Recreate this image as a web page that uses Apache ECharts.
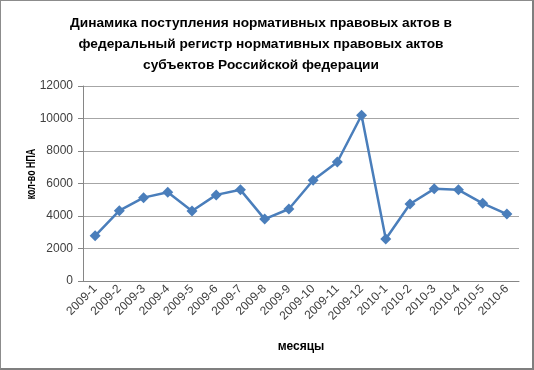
<!DOCTYPE html>
<html><head><meta charset="utf-8">
<script src="https://cdn.jsdelivr.net/npm/echarts@6/dist/echarts.min.js"></script>
<style>
html,body{margin:0;padding:0;background:#fff;}
#c{box-sizing:border-box;width:534px;height:370px;border-left:1px solid #8c8c8c;border-top:1px solid #8c8c8c;border-right:2px solid #7f7f7f;border-bottom:2px solid #7f7f7f;}
</style></head>
<body><div id="c"></div>
<script>
const categories = ['2009-1','2009-2','2009-3','2009-4','2009-5','2009-6','2009-7','2009-8','2009-9','2009-10','2009-11','2009-12','2010-1','2010-2','2010-3','2010-4','2010-5','2010-6'];
const values = [2780,4330,5130,5460,4310,5300,5610,3810,4430,6200,7320,10200,2580,4740,5670,5610,4780,4120];
const titleText = 'Динамика поступления нормативных правовых актов в\nфедеральный регистр нормативных правовых актов\nсубъектов Российской федерации';
const yName = 'кол-во НПА';
const xName = 'месяцы';

const chart = echarts.init(document.getElementById('c'), null, {renderer:'canvas'});
const font = 'Liberation Sans';
chart.setOption({
  animation:false,
  backgroundColor:'#fff',
  title:{
    text:titleText, left:255, top:7, textAlign:'center',
    textStyle:{fontFamily:font, fontSize:13.7, fontWeight:'bold', color:'#000', lineHeight:20.7}
  },
  grid:{left:82, right:13, top:85, bottom:87},
  graphic:[{
    type:'text', x:31, y:173, rotation:Math.PI/2, scaleX:0.74,
    style:{text:yName, fontFamily:font, fontSize:12, fontWeight:'bold', fill:'#000', align:'center', verticalAlign:'middle'}
  }],
  xAxis:{
    type:'category', data:categories, boundaryGap:true,
    name:xName, nameLocation:'middle', nameGap:60,
    nameTextStyle:{fontFamily:font, fontSize:12, fontWeight:'bold', color:'#000'},
    axisLine:{lineStyle:{color:'#868686', width:1}},
    axisTick:{show:false},
    axisLabel:{rotate:45, interval:0, fontFamily:font, fontSize:12, color:'#404040', margin:6}
  },
  yAxis:{
    type:'value', min:0, max:12000, interval:2000,
    axisLine:{show:true, lineStyle:{color:'#868686', width:1}},
    axisTick:{show:true, length:5, lineStyle:{color:'#868686'}},
    axisLabel:{fontFamily:font, fontSize:12, color:'#404040', margin:10, formatter:v=>String(v)},
    splitLine:{lineStyle:{color:'#a6a6a6', width:1}}
  },
  series:[{
    type:'line', data:values,
    symbol:'diamond', symbolSize:11,
    lineStyle:{color:'#4a7ebb', width:2.5},
    itemStyle:{color:'#4a7ebb'}
  }]
});
</script></body></html>
